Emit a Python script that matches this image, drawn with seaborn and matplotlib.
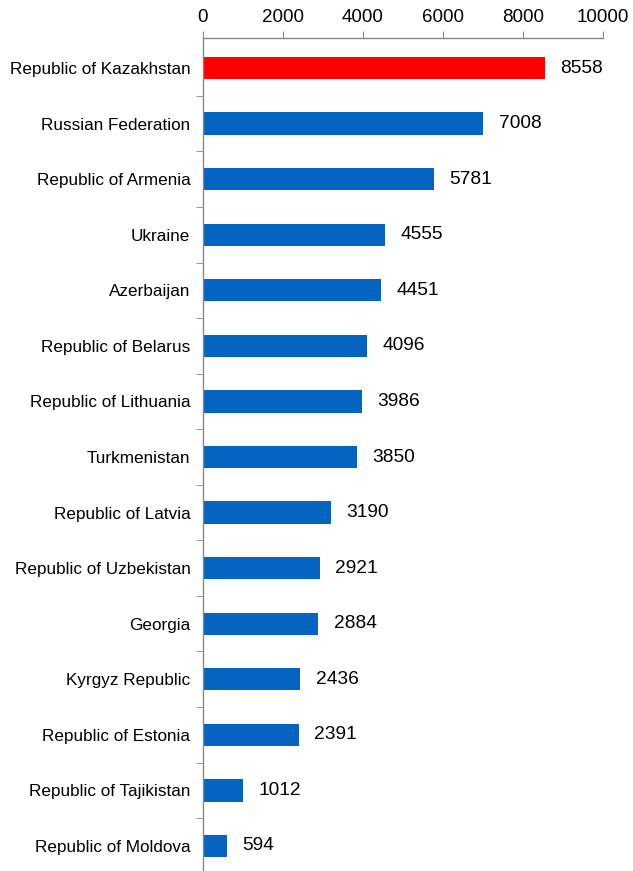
import numpy as np
import matplotlib
matplotlib.use('Agg')
import matplotlib.pyplot as plt
import seaborn as sns
import pandas as pd
from matplotlib.ticker import FixedLocator

countries = [
    'Republic of Kazakhstan', 'Russian Federation', 'Republic of Armenia',
    'Ukraine', 'Azerbaijan', 'Republic of Belarus', 'Republic of Lithuania',
    'Turkmenistan', 'Republic of Latvia', 'Republic of Uzbekistan',
    'Georgia', 'Kyrgyz Republic', 'Republic of Estonia',
    'Republic of Tajikistan', 'Republic of Moldova',
]
values = [8558, 7008, 5781, 4555, 4451, 4096, 3986, 3850, 3190, 2921,
          2884, 2436, 2391, 1012, 594]
highlight = 'Republic of Kazakhstan'

sns.set_style('white')
plt.rcParams['font.family'] = ['Liberation Sans', 'DejaVu Sans']
plt.rcParams['text.color'] = 'black'
plt.rcParams['xtick.color'] = 'black'
plt.rcParams['ytick.color'] = 'black'

df = pd.DataFrame({'country': countries, 'value': values})
df['kind'] = np.where(df['country'] == highlight, 'hi', 'lo')
palette = {'hi': '#FF0000', 'lo': '#0563C1'}

fig = plt.figure(figsize=(6.33, 8.71), dpi=100)
ax = fig.add_axes([203 / 633, 0.0, 400 / 633, 1 - 38 / 871])

sns.barplot(data=df, x='value', y='country', hue='kind', palette=palette,
            order=countries, orient='h', width=0.4, dodge=False,
            saturation=1, linewidth=0, legend=False, ax=ax)

# Value labels
for i, v in enumerate(values):
    ax.text(v + 380, i, str(v), va='center', ha='left', fontsize=13.8,
            color='black')

ax.set_xlim(0, 10000)
ax.set_ylim(len(countries) - 0.55, -0.54)
ax.xaxis.tick_top()
ax.set_xticks(range(0, 10001, 2000))
ax.tick_params(axis='x', direction='out', length=5, color='#888888',
               labelcolor='black', labelsize=13.5, pad=4)
ax.tick_params(axis='y', which='major', length=0, labelsize=12.3, pad=9,
               labelcolor='black')
ax.yaxis.set_minor_locator(FixedLocator(np.arange(0.5, len(countries) - 1, 1)))
ax.tick_params(axis='y', which='minor', direction='out', length=5,
               color='#888888', left=True)
ax.set_xlabel('')
ax.set_ylabel('')

for side in ['right', 'bottom']:
    ax.spines[side].set_visible(False)
for side in ['top', 'left']:
    ax.spines[side].set_color('#888888')
    ax.spines[side].set_linewidth(1.0)

plt.savefig('out.png', dpi=100)
